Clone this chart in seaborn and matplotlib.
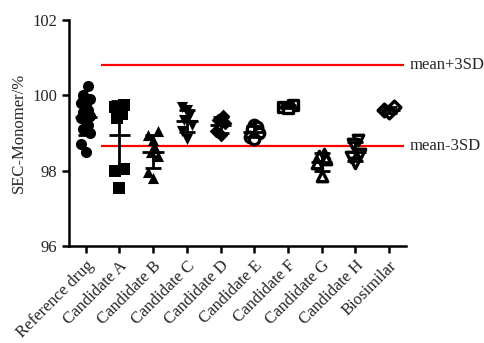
import matplotlib
matplotlib.use("Agg")
import matplotlib.pyplot as plt
import seaborn as sns
import numpy as np
import pandas as pd

categories = ["Reference drug", "Candidate A", "Candidate B", "Candidate C", "Candidate D",
              "Candidate E", "Candidate F", "Candidate G", "Candidate H", "Biosimilar"]

ref_drug = [100.25, 100.0, 99.9, 99.8, 99.75, 99.6, 99.55, 99.45, 99.4, 99.3, 99.2, 99.1, 99.0, 98.7, 98.5]
cand_a = [99.75, 99.7, 99.6, 99.5, 99.4, 98.05, 98.0, 97.55]
cand_b = [99.05, 98.95, 98.8, 98.6, 98.5, 98.4, 97.95, 97.8]
cand_c = [99.7, 99.6, 99.45, 99.35, 99.2, 99.05, 98.85]
cand_d = [99.45, 99.35, 99.25, 99.05, 98.95]
cand_e = [99.2, 99.15, 99.1, 99.0, 98.9, 98.85]
cand_f = [99.75, 99.7, 99.65]
cand_g = [98.45, 98.4, 98.3, 98.2, 97.85]
cand_h = [98.8, 98.7, 98.45, 98.35, 98.2]
biosimilar = [99.7, 99.6, 99.55]

upper_limit = 100.8
lower_limit = 98.65

groups = [ref_drug, cand_a, cand_b, cand_c, cand_d, cand_e, cand_f, cand_g, cand_h, biosimilar]
markers = ["o", "s", "^", "v", "D", "o", "s", "^", "v", "D"]
filled = [True, True, True, True, True, False, False, False, False, False]

# deterministic horizontal spread pattern (layout only)
spread = [0.0, -0.14, 0.14, -0.07, 0.07]

sns.set_style("ticks")
plt.rcParams["font.family"] = ["Liberation Serif", "DejaVu Serif"]

fig = plt.figure(figsize=(4.85, 3.43), dpi=100)
ax = fig.add_axes([0.142, 0.283, 0.695, 0.659])

df = pd.DataFrame({
    "group": np.concatenate([[c] * len(g) for c, g in zip(categories, groups)]),
    "value": np.concatenate(groups),
})

for i, (cat, m, f) in enumerate(zip(categories, markers, filled)):
    sub = df[df["group"] == cat]
    size = 8 if m != "D" else 7
    n_before = len(ax.collections)
    if f:
        sns.stripplot(data=sub, x="group", y="value", order=categories, marker=m,
                      jitter=False, color="black", size=size, ax=ax, zorder=3)
    else:
        sns.stripplot(data=sub, x="group", y="value", order=categories, marker=m,
                      jitter=False, facecolor="white", edgecolor="black", linewidth=2.4,
                      size=size - 0.5, ax=ax, zorder=3)
    for coll in ax.collections[n_before:]:
        offs = np.asarray(coll.get_offsets(), dtype=float)
        if len(offs):
            order = np.argsort(offs[:, 1])
            dx = np.zeros(len(offs))
            for rank, idx in enumerate(order):
                dx[idx] = spread[rank % len(spread)]
            offs[:, 0] = offs[:, 0] + dx
            coll.set_offsets(offs)

for i, g in enumerate(groups):
    mu = np.mean(g)
    sd = np.std(g, ddof=1)
    ax.errorbar(i, mu, yerr=sd, fmt="none", ecolor="black", elinewidth=2,
                capsize=6, capthick=2, zorder=4)
    ax.hlines(mu, i - 0.32, i + 0.32, color="black", lw=2, zorder=4)

ax.hlines([upper_limit, lower_limit], 0.45, 9.45, color="red", lw=1.6, zorder=2)
ax.text(9.62, upper_limit, "mean+3SD", va="center", ha="left", fontsize=12, clip_on=False)
ax.text(9.62, lower_limit, "mean-3SD", va="center", ha="left", fontsize=12, clip_on=False)

ax.set_xlim(-0.5, 9.5)
ax.set_ylim(96, 102)
ax.set_yticks([96, 98, 100, 102])
ax.set_xlabel("")
ax.set_ylabel("SEC-Monomer/%", fontsize=12)
ax.tick_params(axis="both", width=1.8, length=5, labelsize=12, color="black")
ax.set_xticks(range(len(categories)))
ax.set_xticklabels(categories, rotation=45, ha="right", rotation_mode="anchor", fontsize=12)
for s in ["left", "bottom"]:
    ax.spines[s].set_linewidth(1.8)
    ax.spines[s].set_color("black")
sns.despine(ax=ax)

fig.savefig("out.png", dpi=100)
